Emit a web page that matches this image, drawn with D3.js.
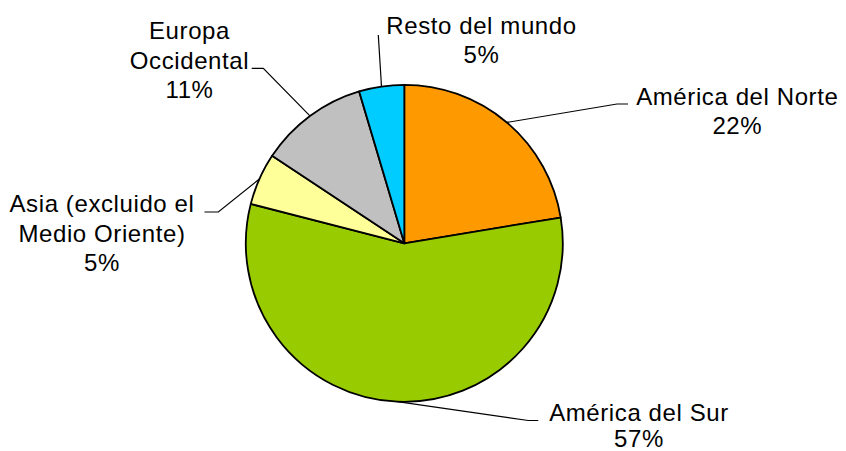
<!DOCTYPE html>
<html>
<head>
<meta charset="utf-8">
<script src="https://cdn.jsdelivr.net/npm/d3@7"></script>
<style>
  html, body { margin: 0; padding: 0; background: #ffffff; }
  svg { display: block; }
  text { font-family: "Liberation Sans", Arial, sans-serif; font-size: 24px; fill: #000; letter-spacing: 0.6px; }
</style>
</head>
<body>
<div id="chart"></div>
<script>
// ---- data ----
const categories = ["América del Norte", "América del Sur", "Asia (excluido el Medio Oriente)", "Europa Occidental", "Resto del mundo"];
const values = [22.4, 56.6, 5.3, 11.1, 4.6];
const labelLines = [
  ["América del Norte"],
  ["América del Sur"],
  ["Asia (excluido el", "Medio Oriente)"],
  ["Europa", "Occidental"],
  ["Resto del mundo"]
];
const colors = ["#FF9900", "#99CC00", "#FFFF99", "#C0C0C0", "#00CCFF"];

// ---- layout (label placement, not data) ----
const W = 846, H = 451;
const cx = 404.3, cy = 243.3, R = 158.5;
// label centre x, first baseline y, line step, leader elbow, leader end
const labelLayout = [
  { x: 737.3, y: 105,   step: 28.5, elbow: [617, 104],     end: [628, 104] },
  { x: 639,   y: 421.3, step: 26,   elbow: [528.3, 420.5], end: [538.3, 420.5] },
  { x: 102,   y: 212.3, step: 29.3, elbow: [218.3, 212],   end: [204.5, 212] },
  { x: 189.5, y: 39.3,  step: 29.3, elbow: [263.3, 68.3],  end: [251.7, 68.3] },
  { x: 481.5, y: 34.3,  step: 28.5, elbow: [378.3, 35],    end: [378.3, 35] }
];

const data = categories.map((c, i) => ({ name: c, value: values[i], lines: labelLines[i], color: colors[i], layout: labelLayout[i] }));

const svg = d3.select("#chart").append("svg").attr("width", W).attr("height", H);

const pie = d3.pie().sort(null).value(d => d.value).startAngle(0).endAngle(2 * Math.PI);
const arc = d3.arc().innerRadius(0).outerRadius(R);
const arcs = pie(data);
const total = d3.sum(values);

// leader lines
const gLead = svg.append("g");
arcs.forEach(a => {
  const mid = (a.startAngle + a.endAngle) / 2;
  const p0 = [cx + R * Math.sin(mid), cy - R * Math.cos(mid)];
  const L = a.data.layout;
  gLead.append("polyline")
    .attr("points", [p0, L.elbow, L.end].map(p => p.join(",")).join(" "))
    .attr("fill", "none").attr("stroke", "#000").attr("stroke-width", 1.2);
});

// slices
const g = svg.append("g").attr("transform", `translate(${cx},${cy})`);
g.selectAll("path").data(arcs).enter().append("path")
  .attr("d", arc)
  .attr("fill", d => d.data.color)
  .attr("stroke", "#000")
  .attr("stroke-width", 1.8)
  .attr("stroke-linejoin", "round");

// labels
const fmtPct = v => Math.round(v / total * 100) + "%";
arcs.forEach(a => {
  const L = a.data.layout;
  const lines = a.data.lines.concat([fmtPct(a.data.value)]);
  const t = svg.append("text").attr("text-anchor", "middle");
  lines.forEach((ln, i) => {
    t.append("tspan").attr("x", L.x).attr("y", L.y + i * L.step).text(ln);
  });
});
</script>
</body>
</html>
